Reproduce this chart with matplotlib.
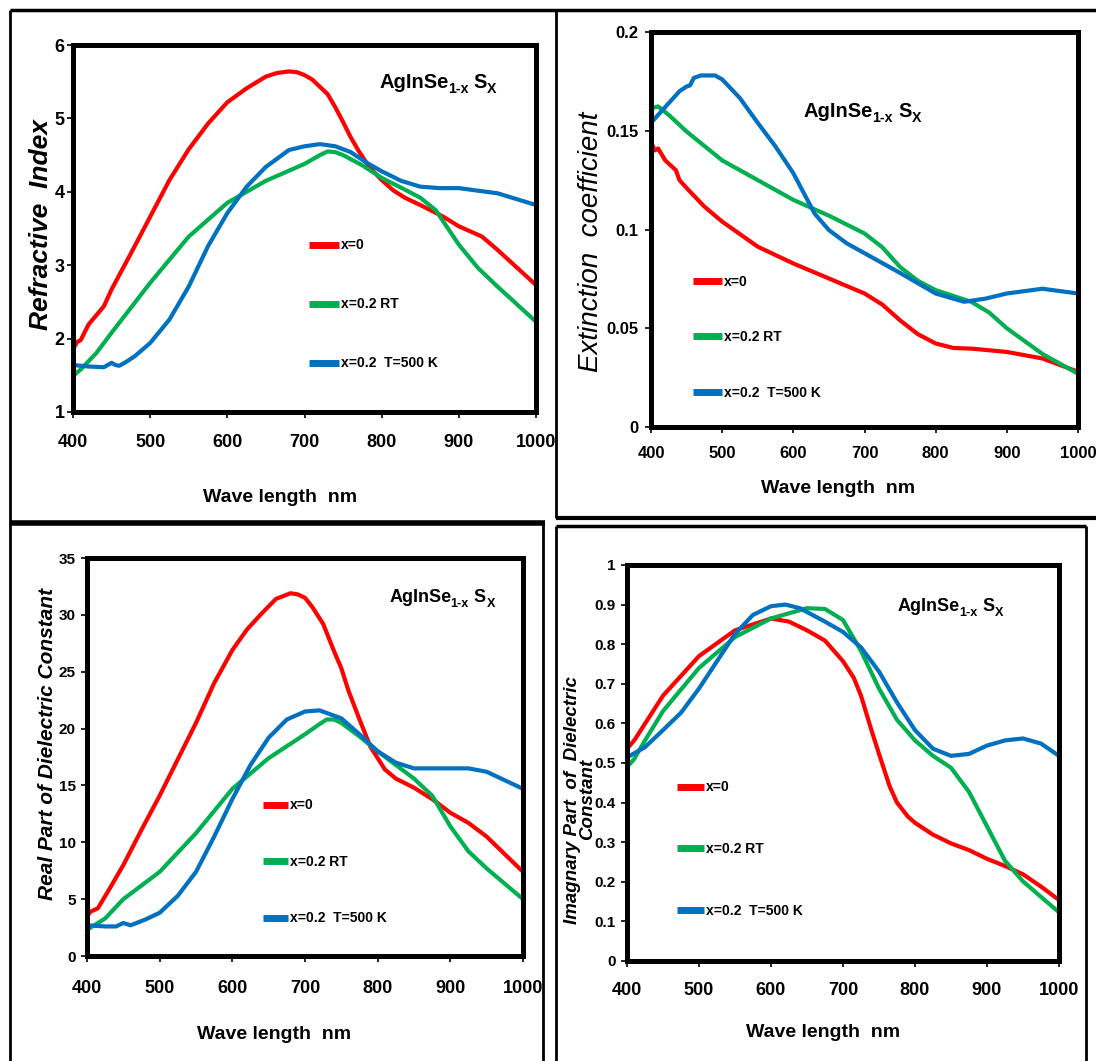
import matplotlib
matplotlib.use("Agg")
import matplotlib.pyplot as plt
from matplotlib.lines import Line2D

# ---- data (wavelength in nm) ----
labels = ["x=0", "x=0.2 RT", "x=0.2  T=500 K"]
colors = ["#FF0000", "#00B050", "#0070C0"]
xticks = [400, 500, 600, 700, 800, 900, 1000]

# refractive index n
n_wl_red = [400, 405, 410, 420, 440, 450, 475, 500, 525, 550, 575, 600, 625, 650, 665, 680, 690, 700, 710, 720, 730, 740,
            750, 760, 770, 780, 790, 800, 815, 830, 850, 880, 900, 930, 950, 1000]
n_red = [1.85, 1.95, 1.98, 2.19, 2.44, 2.67, 3.16, 3.66, 4.16, 4.58, 4.93, 5.22, 5.41, 5.57, 5.62, 5.64, 5.63, 5.59, 5.53,
         5.43, 5.33, 5.15, 4.95, 4.74, 4.56, 4.40, 4.27, 4.16, 4.02, 3.92, 3.82, 3.66, 3.53, 3.39, 3.21, 2.73]
n_wl_green = [400, 410, 430, 450, 500, 550, 600, 650, 700, 720, 730, 740, 750, 775, 800, 830, 850, 870, 900, 925, 950, 1000]
n_green = [1.49, 1.58, 1.80, 2.08, 2.76, 3.39, 3.85, 4.15, 4.38, 4.50, 4.55, 4.54, 4.50, 4.36, 4.19, 4.03, 3.92, 3.75, 3.28,
           2.96, 2.71, 2.23]
n_wl_blue = [400, 420, 440, 450, 455, 460, 470, 480, 500, 525, 550, 575, 600, 625, 650, 680, 700, 720, 740, 760, 780, 800,
             825, 850, 875, 900, 950, 1000]
n_blue = [1.64, 1.62, 1.61, 1.67, 1.64, 1.63, 1.69, 1.76, 1.94, 2.26, 2.71, 3.26, 3.71, 4.07, 4.34, 4.57, 4.62, 4.65, 4.62,
          4.54, 4.40, 4.28, 4.15, 4.07, 4.05, 4.05, 3.98, 3.82]

# extinction coefficient k
k_wl_red = [400, 405, 410, 420, 435, 440, 450, 475, 500, 550, 600, 650, 700, 725, 750, 775, 800, 825, 850, 900, 950, 1000]
k_red = [0.1445, 0.140, 0.141, 0.135, 0.130, 0.125, 0.121, 0.1116, 0.104, 0.0913, 0.0828, 0.0752, 0.0676, 0.062, 0.054,
         0.047, 0.0423, 0.040, 0.0397, 0.038, 0.0347, 0.028]
k_wl_green = [400, 410, 425, 450, 500, 550, 600, 650, 700, 725, 750, 775, 800, 850, 875, 900, 950, 1000]
k_green = [0.1614, 0.1623, 0.158, 0.1496, 0.135, 0.125, 0.115, 0.107, 0.098, 0.091, 0.081, 0.074, 0.0693, 0.0634, 0.058,
           0.050, 0.037, 0.027]
k_wl_blue = [400, 420, 440, 450, 455, 460, 470, 490, 500, 525, 550, 575, 600, 630, 650, 675, 700, 750, 800, 840, 870, 900,
             950, 1000]
k_blue = [0.154, 0.162, 0.170, 0.1724, 0.173, 0.1767, 0.178, 0.178, 0.176, 0.1665, 0.154, 0.142, 0.1285, 0.108, 0.0997,
          0.093, 0.088, 0.078, 0.0676, 0.0634, 0.065, 0.0676, 0.070, 0.0676]

# real part of dielectric constant
er_wl_red = [400, 405, 415, 430, 450, 475, 500, 525, 550, 575, 600, 620, 640, 660, 680, 690, 700, 710, 725, 740, 750, 760,
             775, 790, 800, 810, 825, 850, 875, 900, 925, 950, 1000]
er_red = [3.5, 3.9, 4.2, 5.8, 8.0, 11.1, 14.1, 17.3, 20.5, 24.0, 26.9, 28.7, 30.1, 31.4, 31.9, 31.8, 31.5, 30.7, 29.2, 26.8,
          25.3, 23.3, 20.8, 18.4, 17.4, 16.4, 15.6, 14.8, 13.8, 12.6, 11.7, 10.5, 7.4]
er_wl_green = [400, 425, 450, 500, 550, 600, 650, 700, 720, 730, 740, 750, 775, 800, 850, 875, 900, 925, 950, 1000]
er_green = [2.3, 3.3, 5.0, 7.4, 10.8, 14.7, 17.4, 19.5, 20.4, 20.8, 20.8, 20.5, 19.3, 18.0, 15.6, 14.1, 11.4, 9.2, 7.7, 5.0]
er_wl_blue = [400, 425, 440, 450, 460, 480, 500, 525, 550, 575, 600, 625, 650, 675, 700, 720, 750, 775, 800, 825, 850, 875,
              900, 925, 950, 1000]
er_blue = [2.7, 2.6, 2.6, 2.9, 2.7, 3.2, 3.8, 5.3, 7.4, 10.5, 13.8, 16.8, 19.2, 20.8, 21.5, 21.6, 20.9, 19.5, 18.0, 17.0,
           16.5, 16.5, 16.5, 16.5, 16.2, 14.7]

# imaginary part of dielectric constant
ei_wl_red = [400, 410, 450, 500, 550, 600, 625, 650, 675, 700, 715, 725, 740, 750, 765, 775, 790, 800, 825, 850, 875, 900,
             925, 950, 975, 1000]
ei_red = [0.536, 0.557, 0.670, 0.770, 0.835, 0.865, 0.857, 0.835, 0.809, 0.757, 0.715, 0.670, 0.580, 0.523, 0.440, 0.400,
          0.365, 0.349, 0.319, 0.297, 0.280, 0.258, 0.240, 0.219, 0.188, 0.154]
ei_wl_green = [400, 410, 425, 450, 500, 550, 600, 650, 675, 700, 725, 750, 775, 800, 825, 850, 875, 900, 925, 950, 1000]
ei_green = [0.49, 0.51, 0.557, 0.631, 0.740, 0.818, 0.865, 0.891, 0.889, 0.861, 0.783, 0.688, 0.609, 0.557, 0.518, 0.488,
            0.427, 0.340, 0.253, 0.201, 0.123]
ei_wl_blue = [400, 425, 450, 475, 500, 525, 550, 575, 600, 620, 640, 675, 700, 725, 750, 775, 800, 825, 850, 875, 900, 925,
              950, 975, 1000]
ei_blue = [0.514, 0.540, 0.583, 0.627, 0.688, 0.757, 0.826, 0.874, 0.896, 0.900, 0.891, 0.857, 0.831, 0.792, 0.731, 0.653,
           0.583, 0.536, 0.518, 0.523, 0.544, 0.557, 0.562, 0.549, 0.518]

W, H = 1096, 1061
ARIAL = ["Liberation Sans", "DejaVu Sans"]
plt.rcParams["font.family"] = ARIAL

fig = plt.figure(figsize=(W / 100, H / 100), dpi=100)


def px_rect(l, t, r, b):
    return [l / W, 1 - b / H, (r - l) / W, (b - t) / H]


def formula(ax, x, y, size):
    # AgInSe_{1-x} S_X built from pieces so the hyphen stays a hyphen
    sub = 0.7 * size
    drop = -0.2 * size
    t1 = ax.text(x, y, "AgInSe", transform=ax.transAxes, fontsize=size, fontweight="bold", va="baseline")
    t2 = ax.annotate("1-x", xy=(1, 0), xycoords=t1, xytext=(-0.5, drop), textcoords="offset points",
                     fontsize=sub, fontweight="bold", va="bottom")
    t3 = ax.annotate("S", xy=(1, 0), xycoords=(t2, t1), xytext=(3.5, 0), textcoords="offset points",
                     fontsize=size, fontweight="bold", va="bottom")
    ax.annotate("X", xy=(1, 0), xycoords=(t3, t2), xytext=(0.5, 0), textcoords="offset points",
                fontsize=sub, fontweight="bold", va="bottom")


# panel frames drawn in pixel space
bg = fig.add_axes([0, 0, 1, 1])
bg.set_xlim(0, W)
bg.set_ylim(H, 0)
bg.axis("off")
frame_lines = [
    ([10, 1096], [10, 10], 2.5),
    ([10, 10], [10, 1061], 2.0),
    ([556, 556], [10, 518], 2.0),
    ([556, 1096], [518, 518], 3.0),
    ([10, 545], [523, 523], 4.0),
    ([543, 543], [523, 1061], 2.0),
    ([556, 1086], [526, 526], 2.5),
    ([556, 556], [526, 1061], 2.0),
    ([1086, 1086], [526, 1061], 2.0),
]
for xs, ys, lw in frame_lines:
    bg.add_line(Line2D(xs, ys, color="black", lw=lw, solid_capstyle="butt"))

panels = [
    dict(rect=(73, 45, 536, 412), ylim=(1, 6), yticks=[1, 2, 3, 4, 5, 6],
         yticklabels=["1", "2", "3", "4", "5", "6"],
         series=[(n_wl_red, n_red), (n_wl_green, n_green), (n_wl_blue, n_blue)],
         ylabel="Refractive  Index", ylab_kw=dict(fontsize=19, fontweight="bold"), ylab_pos=(-0.069, 0.51),
         xlab_pos=(0.447, -0.21), xtick_size=13, ytick_size=13, xpad=12, ypad=2,
         title_xy=(0.661, 0.883), title_size=14.5,
         leg_xy=(0.51, 0.473), leg_space=3.24, leg_hl=2.16),
    dict(rect=(651, 32, 1078, 427), ylim=(0, 0.2), yticks=[0, 0.05, 0.1, 0.15, 0.2],
         yticklabels=["0", "0.05", "0.1", "0.15", "0.2"],
         series=[(k_wl_red, k_red), (k_wl_green, k_green), (k_wl_blue, k_blue)],
         ylabel="Extinction  coefficient", ylab_kw=dict(fontsize=20, fontweight="normal"), ylab_pos=(-0.14, 0.468),
         xlab_pos=(0.438, -0.135), xtick_size=12, ytick_size=12, xpad=10, ypad=5,
         title_xy=(0.358, 0.785), title_size=14.5,
         leg_xy=(0.098, 0.386), leg_space=2.99, leg_hl=2.1),
    dict(rect=(87, 558, 523, 956), ylim=(0, 35), yticks=[0, 5, 10, 15, 20, 25, 30, 35],
         yticklabels=["0", "5", "10", "15", "20", "25", "30", "35"],
         series=[(er_wl_red, er_red), (er_wl_green, er_green), (er_wl_blue, er_blue)],
         ylabel="Real Part of Dielectric Constant", ylab_kw=dict(fontsize=15, fontweight="bold"), ylab_pos=(-0.09, 0.533),
         xlab_pos=(0.43, -0.175), xtick_size=13, ytick_size=11, xpad=13, ypad=4,
         title_xy=(0.693, 0.889), title_size=13,
         leg_xy=(0.404, 0.396), leg_space=3.06, leg_hl=1.8),
    dict(rect=(627, 565, 1059, 961), ylim=(0, 1), yticks=[i / 10 for i in range(11)],
         yticklabels=["0", "0.1", "0.2", "0.3", "0.4", "0.5", "0.6", "0.7", "0.8", "0.9", "1"],
         series=[(ei_wl_red, ei_red), (ei_wl_green, ei_green), (ei_wl_blue, ei_blue)],
         ylabel="Imagnary Part  of  Dielectric\nConstant",
         ylab_kw=dict(fontsize=13.5, fontweight="bold", linespacing=0.85), ylab_pos=(-0.108, 0.407),
         xlab_pos=(0.454, -0.16), xtick_size=13, ytick_size=11, xpad=11, ypad=4,
         title_xy=(0.627, 0.884), title_size=13,
         leg_xy=(0.116, 0.456), leg_space=3.45, leg_hl=1.95),
]

for p in panels:
    ax = fig.add_axes(px_rect(*p["rect"]))
    for (wl, vals), c, lab in zip(p["series"], colors, labels):
        ax.plot(wl, vals, color=c, lw=3, label=lab, solid_capstyle="round", solid_joinstyle="round")
    ax.set_xlim(400, 1000)
    ax.set_ylim(*p["ylim"])
    ax.set_xticks(xticks)
    ax.set_xticklabels([str(v) for v in xticks], fontweight="bold")
    ax.set_yticks(p["yticks"])
    ax.set_yticklabels(p["yticklabels"], fontweight="bold")
    ax.tick_params(axis="x", direction="out", length=4, width=1.2, labelsize=p["xtick_size"], pad=p["xpad"])
    ax.tick_params(axis="y", direction="out", length=4, width=1.2, labelsize=p["ytick_size"], pad=p["ypad"])
    for s in ax.spines.values():
        s.set_linewidth(3.6)
    ax.set_ylabel(p["ylabel"], style="italic", **p["ylab_kw"])
    ax.yaxis.label.set_va("center")
    ax.yaxis.set_label_coords(*p["ylab_pos"])
    ax.set_xlabel("Wave length  nm", fontsize=14, fontweight="bold")
    ax.xaxis.set_label_coords(*p["xlab_pos"])
    formula(ax, *p["title_xy"], p["title_size"])
    leg = ax.legend(loc="upper left", bbox_to_anchor=p["leg_xy"], frameon=False,
                    borderpad=0, borderaxespad=0, handlelength=p["leg_hl"], handletextpad=0.15,
                    labelspacing=p["leg_space"], prop=dict(weight="bold", size=10))
    for h in leg.legend_handles:
        h.set_linewidth(5)
        h.set_solid_capstyle("butt")

fig.savefig("out.png", dpi=100)
